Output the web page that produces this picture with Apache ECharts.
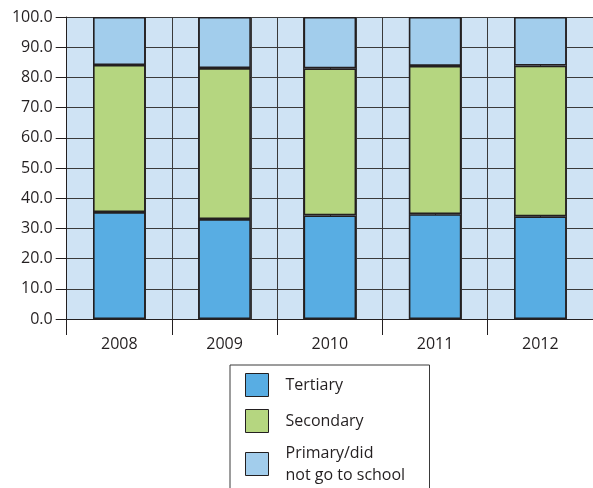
<!DOCTYPE html>
<html>
<head>
<meta charset="utf-8">
<script src="https://cdn.jsdelivr.net/npm/echarts@6/dist/echarts.min.js"></script>
<style>
html,body{margin:0;padding:0;background:#fff;}
#chart{width:593px;height:488px;}
</style>
</head>
<body>
<div id="chart"></div>
<script>
var years = ['2008', '2009', '2010', '2011', '2012'];
var tertiary = [35.4, 33.1, 34.3, 34.7, 34.0];
var secondary = [48.7, 50.0, 48.7, 49.1, 49.9];
var primary = [15.9, 16.9, 17.0, 16.2, 16.1];
var seriesNames = ['Tertiary', 'Secondary', 'Primary/did\nnot go to school'];
var seriesColors = ['#58ade3', '#b5d680', '#a2cdec'];

var chart = echarts.init(document.getElementById('chart'));
var font = "'Open Sans', sans-serif";
var dark = '#231f20';
var gridLine = '#3a3a3a';

function mk(i, data) {
  return {
    name: seriesNames[i],
    type: 'bar',
    stack: 'all',
    data: data,
    barWidth: '50%',
    xAxisIndex: 0,
    itemStyle: { color: seriesColors[i], borderColor: dark, borderWidth: 1.6 },
    emphasis: { disabled: true }
  };
}

chart.setOption({
  animation: false,
  textStyle: { fontFamily: font },
  grid: {
    left: 66.7, top: 17, bottom: 169, right: -3,
    show: true, backgroundColor: '#cfe3f4', borderWidth: 0
  },
  legend: {
    orient: 'vertical',
    left: 230, top: 365, height: 300,
    padding: [8, 16, 30, 15],
    borderColor: '#3a3a3a', borderWidth: 1,
    icon: 'rect',
    itemWidth: 23, itemHeight: 23, itemGap: 12,
    selectedMode: false,
    itemStyle: { borderColor: dark, borderWidth: 1 },
    textStyle: { fontFamily: font, fontSize: 16, color: dark, padding: [0, 0, 0, 12], lineHeight: 22, width: 128 },
    data: [
      { name: seriesNames[0] },
      { name: seriesNames[1] },
      { name: seriesNames[2], textStyle: { height: 29 } }
    ]
  },
  xAxis: [{
    type: 'category',
    data: years,
    axisLine: { show: true, lineStyle: { color: dark, width: 1 } },
    axisTick: { show: true, length: 16, lineStyle: { color: dark, width: 1 } },
    axisLabel: { color: dark, fontSize: 16, margin: 17, fontFamily: font },
    splitLine: { show: false }
  }, {
    type: 'value',
    min: 0, max: 20, interval: 1,
    position: 'bottom',
    axisLine: { show: false }, axisTick: { show: false }, axisLabel: { show: false },
    splitLine: { show: true, lineStyle: { color: gridLine, width: 1 } }
  }],
  yAxis: {
    type: 'value',
    min: 0, max: 100, interval: 10,
    axisLine: { show: true, lineStyle: { color: dark, width: 1 } },
    axisTick: { show: true, length: 11, lineStyle: { color: dark, width: 1 } },
    axisLabel: { color: dark, fontSize: 16, margin: 14, fontFamily: font,
      formatter: function (v) { return v.toFixed(1); } },
    splitLine: { show: true, lineStyle: { color: gridLine, width: 1 } }
  },
  series: [mk(0, tertiary), mk(1, secondary), mk(2, primary)]
});
</script>
</body>
</html>
